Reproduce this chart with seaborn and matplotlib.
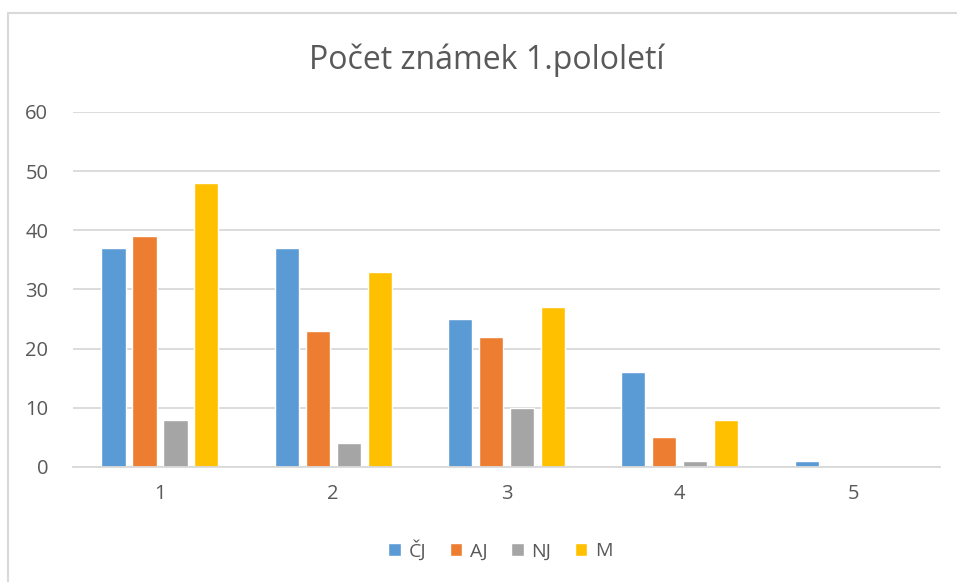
import matplotlib
matplotlib.use("Agg")
import matplotlib.pyplot as plt
import seaborn as sns
import pandas as pd
from matplotlib.patches import Rectangle

grades = ["1", "2", "3", "4", "5"]
subjects = ["ČJ", "AJ", "NJ", "M"]
cj = [37, 37, 25, 16, 1]
aj = [39, 23, 22, 5, 0]
nj = [8, 4, 10, 1, 0]
m = [48, 33, 27, 8, 0]
colors = ["#5B9BD5", "#ED7D31", "#A5A5A5", "#FFC000"]
yticks = [0, 10, 20, 30, 40, 50, 60]

rows = []
for subj, vals in zip(subjects, [cj, aj, nj, m]):
    for g, v in zip(grades, vals):
        rows.append({"grade": g, "subject": subj, "count": v})
df = pd.DataFrame(rows)

sns.set_theme(style="white")
plt.rcParams["font.family"] = ["Open Sans", "DejaVu Sans"]

fig = plt.figure(figsize=(9.57, 5.82), dpi=100)
ax = fig.add_axes([0.0766, 0.1976, 0.9054, 0.61])

sns.barplot(data=df, x="grade", y="count", hue="subject", order=grades,
            hue_order=subjects, palette=colors, width=0.715, gap=0.22,
            saturation=1, ax=ax, legend=True)

ax.set_ylim(0, 60)
ax.set_yticks(yticks)
ax.set_xlim(-0.5, 4.5)
ax.yaxis.grid(True, color="#D9D9D9", linewidth=1.3)
ax.set_axisbelow(True)
for s in ["top", "right", "left"]:
    ax.spines[s].set_visible(False)
ax.spines["bottom"].set_color("#D9D9D9")
ax.spines["bottom"].set_linewidth(1.3)
ax.set_xlabel("")
ax.set_ylabel("")
ax.tick_params(axis="both", colors="#595959", labelsize=14.5, length=0)
ax.tick_params(axis="y", pad=18)
ax.tick_params(axis="x", pad=12)

fig.text(0.509, 0.897, "Počet známek 1.pololetí", ha="center", va="center",
         fontsize=23, color="#595959")

leg = ax.legend(loc="center", bbox_to_anchor=(0.493, -0.234), ncol=4, frameon=False,
                fontsize=14, handlelength=0.65, handleheight=0.65,
                handletextpad=0.4, columnspacing=1.2)
for t in leg.get_texts():
    t.set_color("#595959")

fig.patches.append(Rectangle((8 / 957, -0.1), 1.2, 1 - 13 / 582 + 0.1,
                             transform=fig.transFigure, fill=False,
                             edgecolor="#D9D9D9", linewidth=1.5))

fig.savefig("out.png", dpi=100)
